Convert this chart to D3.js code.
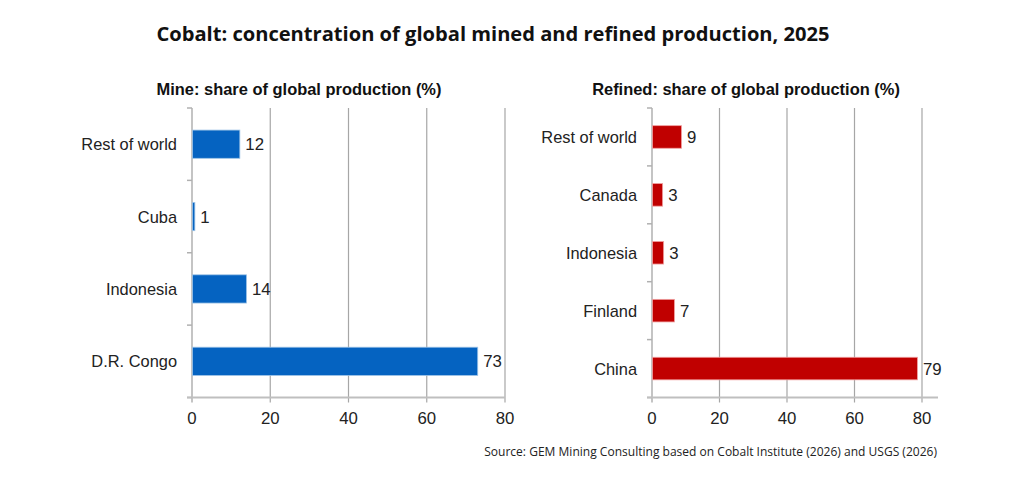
<!DOCTYPE html>
<html>
<head>
<meta charset="utf-8">
<script src="https://cdn.jsdelivr.net/npm/d3@7"></script>
<style>
  body { margin: 0; background: #fff; }
  svg { display: block; }
</style>
</head>
<body>
<svg width="1024" height="488"></svg>
<script>
// data
const mineCats = ["Rest of world", "Cuba", "Indonesia", "D.R. Congo"];
const mineVals = [12.1, 0.6, 13.8, 72.9];
const refCats = ["Rest of world", "Canada", "Indonesia", "Finland", "China"];
const refVals = [8.6, 3.0, 3.3, 6.5, 78.5];
const xTicks = [0, 20, 40, 60, 80];

const titleText = "Cobalt: concentration of global mined and refined production, 2025";
const sourceText = "Source: GEM Mining Consulting based on Cobalt Institute (2026) and USGS (2026)";

const svg = d3.select("svg");
const font = "'Liberation Sans', Arial, sans-serif";

// fit a text element to a given width by tweaking font size
function fit(sel, w) {
  const len = sel.node().getComputedTextLength();
  const fs = parseFloat(sel.attr("font-size"));
  sel.attr("font-size", (fs * w / len).toFixed(2));
}

const title = svg.append("text")
  .attr("x", 493).attr("y", 41)
  .attr("text-anchor", "middle")
  .attr("font-family", "'Open Sans', sans-serif")
  .attr("font-weight", "bold")
  .attr("font-size", 18)
  .attr("fill", "#111")
  .text(titleText);
fit(title, 673);

const src = svg.append("text")
  .attr("x", 937).attr("y", 456)
  .attr("text-anchor", "end")
  .attr("font-family", "'Open Sans', sans-serif")
  .attr("font-size", 11)
  .attr("fill", "#222")
  .text(sourceText);
fit(src, 453);

function panel(opts) {
  const {cats, vals, color, edge, x0, x80, axisEnd, label, labelX, labelW} = opts;
  const top = 108, bottom = 397.5;
  const x = d3.scaleLinear().domain([0, 80]).range([x0, x80]);
  const y = d3.scaleBand().domain(cats).range([top, bottom]).paddingInner(0.61).paddingOuter(0.305);
  const band = d3.scaleBand().domain(cats).range([top, bottom]);
  const g = svg.append("g");

  // gridlines
  g.selectAll(".grid").data(xTicks.slice(1)).join("line")
    .attr("x1", d => x(d)).attr("x2", d => x(d))
    .attr("y1", top).attr("y2", bottom + 5)
    .attr("stroke", "#a6a6a6").attr("stroke-width", 1.2);

  // y axis line and category ticks
  g.append("line")
    .attr("x1", x0).attr("x2", x0).attr("y1", top).attr("y2", bottom + 5)
    .attr("stroke", "#b0b0b0").attr("stroke-width", 1.5);
  const bounds = cats.map(c => band(c)).concat([bottom]);
  g.selectAll(".ytick").data(bounds).join("line")
    .attr("x1", x0 - 5).attr("x2", x0)
    .attr("y1", d => d).attr("y2", d => d)
    .attr("stroke", "#b0b0b0").attr("stroke-width", 1.5);

  // x axis
  g.append("line")
    .attr("x1", x0 - 5).attr("x2", axisEnd).attr("y1", bottom).attr("y2", bottom)
    .attr("stroke", "#bfbfbf").attr("stroke-width", 2);
  g.selectAll(".xlab").data(xTicks).join("text")
    .attr("x", d => x(d)).attr("y", 424)
    .attr("text-anchor", "middle")
    .attr("font-family", font).attr("font-size", 16.8).attr("fill", "#222")
    .text(d => d);

  // bars
  g.selectAll(".bar").data(cats).join("rect")
    .attr("x", x0 + 0.5)
    .attr("y", d => y(d))
    .attr("width", (d, i) => x(vals[i]) - x0)
    .attr("height", y.bandwidth())
    .attr("fill", color).attr("stroke", edge).attr("stroke-width", 0.8);

  g.selectAll(".val").data(cats).join("text")
    .attr("x", (d, i) => x(vals[i]) + 6)
    .attr("y", d => y(d) + y.bandwidth() / 2 + 6)
    .attr("font-family", font).attr("font-size", 16.8).attr("fill", "#222")
    .text((d, i) => Math.round(vals[i]));

  g.selectAll(".cat").data(cats).join("text")
    .attr("x", x0 - 15)
    .attr("y", d => y(d) + y.bandwidth() / 2 + 6)
    .attr("text-anchor", "end")
    .attr("font-family", font).attr("font-size", 16.4).attr("fill", "#222")
    .text(d => d);

  const t = g.append("text")
    .attr("x", labelX).attr("y", 95)
    .attr("text-anchor", "middle")
    .attr("font-family", font).attr("font-weight", "bold").attr("font-size", 16)
    .attr("fill", "#111")
    .text(label);
  fit(t, labelW);
}

panel({
  cats: mineCats, vals: mineVals, color: "#0563c1", edge: "#9dc3e6",
  x0: 192, x80: 505, axisEnd: 505,
  label: "Mine: share of global production (%)", labelX: 299, labelW: 285
});
panel({
  cats: refCats, vals: refVals, color: "#c00000", edge: "#f0a0a0",
  x0: 652, x80: 922, axisEnd: 938,
  label: "Refined: share of global production (%)", labelX: 746, labelW: 308
});
</script>
</body>
</html>
